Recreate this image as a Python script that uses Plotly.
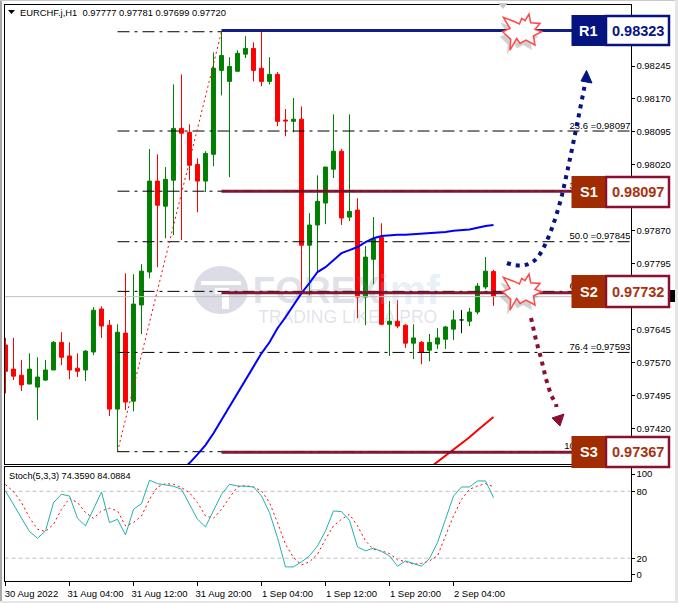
import plotly.graph_objects as go

W, H = 678, 603
FONT = "Liberation Sans"

# ---------- data ----------
opens = [.97610,.97555,.97541,.97521,.97514,.97530,.97553,.97616,.97585,.97557,.97553,.97594,.97692,.97655,.97464,.97637,
         .97482,.97701,.97776,.97983,.97926,.97985,.98103,.98094,.98021,.97983,.98044,.98235,.98210,.98233,.98272,.98285,
         .98240,.98210,.98226,.98122,.98119,.98124,.97837,.97883,.97933,.98010,.98051,.97901,.97917,.97719,.97805,.97855,
         .97657,.97664,.97655,.97614,.97616,.97598,.97612,.97623,.97646,.97667,.97664,.97685,.97742,.97777]
highs = [.97626,.97626,.97576,.97591,.97582,.97576,.97619,.97639,.97616,.97591,.97598,.97696,.97698,.97667,.97657,.97773,
         .97771,.97794,.98056,.98044,.98015,.98203,.98226,.98112,.98035,.98051,.98276,.98324,.98265,.98281,.98313,.98299,
         .98326,.98265,.98231,.98147,.98172,.98153,.97910,.97996,.98015,.98135,.98056,.98135,.97944,.97835,.97901,.97887,
         .97710,.97712,.97657,.97657,.97619,.97635,.97648,.97653,.97689,.97689,.97694,.97751,.97810,.97781]
lows = [.97500,.97530,.97505,.97521,.97439,.97528,.97553,.97564,.97532,.97537,.97528,.97587,.97626,.97448,.97366,.97462,
        .97459,.97635,.97762,.97787,.97853,.97860,.97849,.97985,.97912,.97958,.98017,.98178,.97992,.98233,.98263,.98210,
        .98199,.98203,.98108,.98085,.98094,.97735,.97723,.97776,.97885,.97990,.97883,.97892,.97671,.97655,.97748,.97655,
        .97585,.97648,.97603,.97578,.97566,.97573,.97601,.97601,.97621,.97637,.97653,.97680,.97737,.97699]
closes = [.97550,.97539,.97519,.97555,.97537,.97553,.97616,.97582,.97553,.97550,.97596,.97689,.97653,.97464,.97639,.97480,
          .97703,.97778,.97983,.97928,.97987,.98103,.98092,.98019,.97983,.98046,.98240,.98269,.98244,.98274,.98285,.98235,
          .98210,.98226,.98119,.98120,.98124,.97837,.97883,.97937,.98015,.98051,.97899,.97914,.97719,.97810,.97851,.97657,
          .97664,.97653,.97614,.97626,.97594,.97616,.97626,.97651,.97667,.97667,.97685,.97744,.97778,.97720]

blue_ma = [.97325,.97341,.97361,.97382,.97409,.97439,.97469,.97500,.97530,.97560,.97591,.97616,.97648,.97673,.97701,.97728,
           .97751,.97776,.97787,.97803,.97819,.97826,.97833,.97844,.97853,.97858,.97860,.97861,.97861,.97862,.97864,.97865,
           .97866,.97867,.97870,.97871,.97873,.97877,.97881,.97883]
blue_start = 22
red_ma = [.97330,.97344,.97357,.97371,.97384,.97400,.97416,.97432,.97446]
red_start = 53

stoch_main = [80.3,68.4,56.4,43.9,37.9,44.5,69.9,77.3,75.8,55.8,49,64.2,79.4,51.9,54.9,40.9,63.9,69,89.9,86.9,85.7,84.5,81.8,
              68.4,54.9,48.1,62.4,77.3,86.3,84.8,84.5,83.9,75.8,60.9,38.5,12.2,12.2,16.7,22.1,31,44.5,62.4,61.8,54,30.1,26.6,
              29,26,22.1,12.8,17.6,15.2,12.8,19.7,34,54.9,75.8,83.9,83.9,89.3,89.3,74.36]
stoch_signal = [86,79.7,69.9,56.4,46,43.9,50.4,63.9,73.7,69.9,60.9,55.8,62.4,64.8,62.4,49,51.9,57.9,72.8,83.9,86.9,86.3,83.3,
                78.8,69.9,57.9,55.8,63.9,74.3,83.9,85.1,83.9,80.3,69.9,51.9,32.5,20.6,14,16.7,23.6,37,49,54.9,59.4,49,35.5,28,
                26.6,24.2,18.5,17,14.6,15.2,17.6,22.1,40,57.9,72.8,81.8,84.8,86.9,84.09]

price_ticks = [.98245,.98170,.98095,.98020,.97870,.97795,.97645,.97570,.97495,.97420]
time_ticks = [0,8,16,24,32,40,48,56]
time_labels = ["30 Aug 2022","31 Aug 04:00","31 Aug 12:00","31 Aug 20:00","1 Sep 04:00","1 Sep 12:00","1 Sep 20:00","2 Sep 04:00"]

fib_levels = [.98097,.97960,.97845,.97732,.97593,.97367]
fib_labels = ["23.6 =0.98097","38.2 =0.97960","50.0 =0.97845","61.8 =0.97732","76.4 =0.97593","100.0 =0.97367"]
fib_top = .98323
fib_bottom = .97367
fib_from, fib_to = 14, 27

level_vals = [.98326,.97960,.97729,.97366]
level_cols = ["#06147f","#7d0f2c","#7d0f2c","#7d0f2c"]
bid = .97720
X_MAX = 78.125
LEVEL_END = 71.25


def px(x):
    return x / W


def py(y):
    return 1 - y / H


def path(pts, close=True):
    s = "M " + " L ".join(f"{px(x):.5f},{py(y):.5f}" for x, y in pts)
    return s + (" Z" if close else "")


def curve(pts):
    return path(pts, close=False)


fig = go.Figure()
xs = list(range(len(opens)))

# watermark (behind everything else in the cartesian layer)
fig.add_trace(go.Scatter(x=[30.9], y=[.97726], mode="text", text=["<b>FOREX</b>"], textposition="middle right",
                         textfont=dict(family=FONT, size=37, color="rgba(120,120,160,0.24)"), cliponaxis=False,
                         hoverinfo="skip", showlegend=False, xaxis="x", yaxis="y"))
fig.add_trace(go.Scatter(x=[46.6], y=[.97726], mode="text", text=["<b>imf</b>"], textposition="middle right",
                         textfont=dict(family=FONT, size=41, color="rgba(150,190,225,0.24)"), cliponaxis=False,
                         hoverinfo="skip", showlegend=False))
fig.add_trace(go.Scatter(x=[31.6], y=[.97671], mode="text", text=["TRADING LIKE A PRO"], textposition="middle right",
                         textfont=dict(family=FONT, size=17.5, color="rgba(120,120,160,0.22)"),
                         hoverinfo="skip", showlegend=False))

# Fibonacci dash-dot lines
fig.add_trace(go.Scatter(x=[fib_from, fib_to], y=[fib_top, fib_top], mode="lines",
                         line=dict(color="black", width=1, dash="12px,5px,3px,5px"), hoverinfo="skip", showlegend=False))
for lv in fib_levels:
    fig.add_trace(go.Scatter(x=[fib_from, X_MAX], y=[lv, lv], mode="lines",
                             line=dict(color="black", width=1, dash="12px,5px,3px,5px"), hoverinfo="skip", showlegend=False))

# bid line
fig.add_trace(go.Scatter(x=[-0.125, X_MAX], y=[bid, bid], mode="lines", line=dict(color="#c0c0c0", width=1),
                         hoverinfo="skip", showlegend=False))

fig.add_trace(go.Candlestick(x=xs, open=opens, high=highs, low=lows, close=closes,
                             increasing=dict(line=dict(color="#008000", width=1), fillcolor="#008000"),
                             decreasing=dict(line=dict(color="#ff0000", width=1), fillcolor="#ff0000"),
                             whiskerwidth=0, hoverinfo="skip", showlegend=False))
# the one unchanged candle is black
fig.add_trace(go.Scatter(x=[57, 57], y=[highs[57], lows[57]], mode="lines", line=dict(color="black", width=1),
                         hoverinfo="skip", showlegend=False))

# fib trend line
fig.add_trace(go.Scatter(x=[fib_from, fib_to], y=[fib_bottom, fib_top], mode="lines",
                         line=dict(color="#ff0000", width=1, dash="2px,3px"), hoverinfo="skip", showlegend=False))

# moving averages
fig.add_trace(go.Scatter(x=list(range(blue_start, blue_start + len(blue_ma))), y=blue_ma, mode="lines",
                         line=dict(color="#0000ff", width=2), hoverinfo="skip", showlegend=False))
fig.add_trace(go.Scatter(x=list(range(red_start, red_start + len(red_ma))), y=red_ma, mode="lines",
                         line=dict(color="#ff0000", width=2), hoverinfo="skip", showlegend=False))

# support / resistance lines
for lv, col in zip(level_vals, level_cols):
    fig.add_trace(go.Scatter(x=[fib_to, LEVEL_END], y=[lv, lv], mode="lines", line=dict(color=col, width=3),
                             opacity=0.95, hoverinfo="skip", showlegend=False))

# fib labels
fig.add_trace(go.Scatter(x=[X_MAX] * len(fib_levels), y=fib_levels, mode="text", text=fib_labels,
                         textposition="top left", textfont=dict(family=FONT, size=9.5, color="black"),
                         hoverinfo="skip", showlegend=False))

# stochastic
fig.add_trace(go.Scatter(x=[-0.125, X_MAX], y=[80, 80], mode="lines", line=dict(color="#c0c0c0", width=1, dash="4px,3px"),
                         hoverinfo="skip", showlegend=False, xaxis="x2", yaxis="y2"))
fig.add_trace(go.Scatter(x=[-0.125, X_MAX], y=[20, 20], mode="lines", line=dict(color="#c0c0c0", width=1, dash="4px,3px"),
                         hoverinfo="skip", showlegend=False, xaxis="x2", yaxis="y2"))
fig.add_trace(go.Scatter(x=xs, y=stoch_signal, mode="lines", line=dict(color="#ff0000", width=1, dash="2px,3px"),
                         hoverinfo="skip", showlegend=False, xaxis="x2", yaxis="y2"))
fig.add_trace(go.Scatter(x=xs, y=stoch_main, mode="lines", line=dict(color="#20b2aa", width=1),
                         hoverinfo="skip", showlegend=False, xaxis="x2", yaxis="y2"))

axis_common = dict(showgrid=False, zeroline=False, showline=True, linecolor="black", linewidth=1, mirror=True,
                   tickfont=dict(family=FONT, size=9.5, color="black"))

fig.update_layout(
    width=W, height=H, margin=dict(l=0, r=0, t=0, b=0), paper_bgcolor="white", plot_bgcolor="white",
    showlegend=False, hovermode=False, dragmode=False,
    xaxis=dict(domain=[px(4.5), px(630.5)], range=[-0.125, X_MAX], showticklabels=False, ticks="",
               rangeslider=dict(visible=False), anchor="y", **axis_common),
    yaxis=dict(domain=[py(464), py(4.5)], range=[.97339, .98385], side="right", tickvals=price_ticks,
               ticktext=[f"{v:.5f}" for v in price_ticks], ticks="outside", ticklen=3, tickcolor="black", anchor="x",
               **axis_common),
    xaxis2=dict(domain=[px(4.5), px(630.5)], range=[-0.125, X_MAX], tickvals=time_ticks, ticktext=time_labels,
                ticks="outside", ticklen=4, tickcolor="black", ticklabelshift=26, anchor="y2", **axis_common),
    yaxis2=dict(domain=[py(580.5), py(467)], range=[0, 101.8], side="right", tickvals=[95.5, 80, 20, 5.5],
                ticktext=["100", "80", "20", "0"], ticks="outside", ticklen=3, tickcolor="black", anchor="x2",
                **axis_common),
)

NAVY = "#06147f"
MAROON = "#8b1030"
BROWN = "#a02c00"
shapes = []


def paper_rect(x0, y0, x1, y1, fill, line=None, lw=0, layer="above"):
    shapes.append(dict(type="rect", xref="paper", yref="paper", x0=px(x0), x1=px(x1), y0=py(y0), y1=py(y1),
                       fillcolor=fill, line=dict(color=line or fill, width=lw), layer=layer))


def paper_path(d, fill=None, line=None, lw=0, dash=None, opacity=1, layer="above"):
    ln = dict(color=line or "rgba(0,0,0,0)", width=lw)
    if dash:
        ln["dash"] = dash
    shapes.append(dict(type="path", xref="paper", yref="paper", path=d, fillcolor=fill or "rgba(0,0,0,0)",
                       line=ln, opacity=opacity, layer=layer))


# window edges
paper_rect(0, 0, 2, 603, "#a8a8a8")
paper_rect(0, 0, 678, 1, "#c8c8c8")
paper_rect(0, 601, 678, 603, "#e6e6e6")
paper_rect(675, 0, 678, 603, "#e6e6e6")

# watermark logo (below the traces)
shapes.append(dict(type="circle", xref="paper", yref="paper", x0=px(194), x1=px(248), y0=py(266), y1=py(314),
                   fillcolor="#dcdce6", line=dict(width=0), layer="below"))
paper_path(path([(201, 281), (241, 281), (241, 285), (201, 285)]), fill="white", layer="below")
paper_path(path([(215, 288), (229, 288), (229, 309), (222, 309), (222, 294), (215, 294)]), fill="white", layer="below")

# small grey marker on top edge and header triangle
paper_path(path([(498, 3), (508, 3), (503, 9)]), fill="#c8c8c8")
paper_path(path([(8, 10), (15, 10), (11.5, 14)]), fill="black")

# blue dotted arrow
paper_path("M %.5f,%.5f C %.5f,%.5f %.5f,%.5f %.5f,%.5f C %.5f,%.5f %.5f,%.5f %.5f,%.5f C %.5f,%.5f %.5f,%.5f %.5f,%.5f" % (
    px(507), py(263), px(518), py(267), px(530), py(267), px(538), py(257),
    px(548), py(243), px(556), py(218), px(562), py(195),
    px(569), py(165), px(578), py(120), px(585), py(84)), line=NAVY, lw=4, dash="4px,5px")
paper_path(path([(586.5, 70.5), (581, 81), (592, 83)]), fill=NAVY, line=NAVY, lw=1)

# maroon dotted arrow
paper_path(curve([(531, 318), (536, 340), (541, 358), (546, 379), (551, 395), (556, 404), (556.5, 407)]),
           line=MAROON, lw=4, dash="4px,5px")
paper_path(path([(552, 418), (564, 414), (560, 426)]), fill=MAROON, line=MAROON, lw=1)

# starbursts
STAR = [(-18.3, -14.3), (-7, -10), (-2.3, -7.7), (0, -13.3), (3.3, -11), (7.3, -17.7), (9, -9), (18.3, -8.3), (13.3, -2.3),
        (20, 0), (11.7, 4.3), (13.3, 13.3), (4.3, 8.3), (-1.7, 11.7), (-5, 6.7), (-11.7, 18.3), (-11, 7.7), (-19, 0), (-11.7, -3.3)]
for cx, cy in [(521.7, 31.7), (521.7, 291.7)]:
    paper_path(path([(cx + dx - 3, cy + dy + 5) for dx, dy in STAR]), fill="rgba(90,90,90,0.28)")
    paper_path(path([(cx + dx, cy + dy) for dx, dy in STAR]), fill="white", line="#ff4848", lw=1.5)

# price marker behind S2 box
paper_rect(670, 290, 675, 302, "black")

# label boxes
boxes = [("R1", "0.98323", 15, 46, NAVY, NAVY, NAVY),
         ("S1", "0.98097", 176, 208, BROWN, MAROON, "#a83210"),
         ("S2", "0.97732", 275, 308, BROWN, MAROON, "#a83210"),
         ("S3", "0.97367", 436, 468, BROWN, MAROON, "#a83210")]
annotations = []
for name, val, y0, y1, fill, border, txt in boxes:
    paper_rect(606, y0 + 1, 669, y1 - 1, "white", border, 2.5)
    paper_rect(571.5, y0, 605, y1, fill)
    annotations.append(dict(x=px(588.5), y=py((y0 + y1) / 2), xref="paper", yref="paper", xanchor="center", yanchor="middle",
                            text=f"<b>{name}</b>", showarrow=False, font=dict(family=FONT, size=14.5, color="white")))
    annotations.append(dict(x=px(637.5), y=py((y0 + y1) / 2), xref="paper", yref="paper", xanchor="center", yanchor="middle",
                            text=f"<b>{val}</b>", showarrow=False, font=dict(family=FONT, size=14.5, color=txt)))

annotations.append(dict(x=px(18), y=py(12.5), xref="paper", yref="paper", xanchor="left", yanchor="middle", showarrow=False,
                        text="EURCHF.j,H1  0.97777 0.97781 0.97699 0.97720",
                        font=dict(family=FONT, size=9.4, color="black")))
annotations.append(dict(x=px(7), y=py(475.5), xref="paper", yref="paper", xanchor="left", yanchor="middle", showarrow=False,
                        text="Stoch(5,3,3) 74.3590 84.0884", font=dict(family=FONT, size=9.2, color="black")))

fig.update_layout(shapes=shapes, annotations=annotations)
fig.write_html("out.html", config=dict(displayModeBar=False),
               post_script="document.body.style.margin='0';document.body.style.overflow='hidden';")
